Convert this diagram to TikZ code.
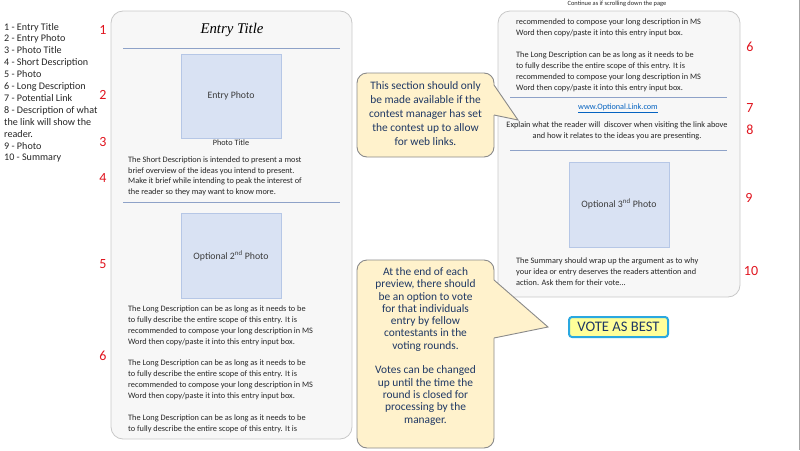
\documentclass[tikz,border=0pt]{standalone}
\usepackage{fontspec}
\setmainfont{Carlito}
\newfontfamily\serifit{Liberation Serif}
\definecolor{panelfill}{HTML}{F7F7F7}
\definecolor{panelborder}{HTML}{C8C8C8}
\definecolor{sepcol}{HTML}{8EA2C8}
\definecolor{photofill}{HTML}{D9E2F3}
\definecolor{photoborder}{HTML}{B6C7E6}
\definecolor{bodycol}{HTML}{262626}
\definecolor{numred}{HTML}{E0141E}
\definecolor{callfill}{HTML}{FFF2CC}
\definecolor{callborder}{HTML}{8A8A8A}
\definecolor{calltext}{HTML}{1F3864}
\definecolor{votefill}{HTML}{FFFF99}
\definecolor{voteborder}{HTML}{2AA8E0}
\definecolor{linkcol}{HTML}{0563C1}
\definecolor{edgecol}{HTML}{A6A6A6}
\begin{document}
\begin{tikzpicture}[x=1pt,y=-1pt,
  panel/.style={draw=panelborder,fill=panelfill,line width=0.8pt,rounded corners=12pt},
  sepline/.style={draw=sepcol,line width=0.8pt},
  photo/.style={draw=photoborder,fill=photofill,line width=0.8pt},
  photolabel/.style={font=\fontsize{9.8}{11}\selectfont,text=bodycol!90,inner sep=0pt},
  body/.style={font=\fontsize{8.3}{10.9}\selectfont,text=bodycol,align=left,inner sep=0pt,anchor=north west},
  bodyc/.style={font=\fontsize{8.3}{11}\selectfont,text=bodycol,align=center,inner sep=0pt,anchor=north},
  num/.style={font=\fontsize{14}{16}\selectfont,text=numred,inner sep=0pt},
  calltxt/.style={font=\fontsize{11.4}{14}\selectfont,text=calltext,align=center,inner sep=0pt,anchor=north},
  callbox/.style={draw=callborder,fill=callfill,line width=0.9pt,rounded corners=10pt},
]
\useasboundingbox (0,0) rectangle (800,450);
% right edge line
\coordinate (et) at (799,0);
\coordinate (eb) at (799,450);
\draw[edgecol,line width=1pt] (et) -- (eb);

% legend list
\node[font=\fontsize{10.1}{11.9}\selectfont,text=bodycol,align=left,inner sep=0pt,anchor=north west] (legend) at (4,22.8)
{1 - Entry Title\\2 - Entry Photo\\3 - Photo Title\\4 - Short Description\\5 - Photo\\6 - Long Description\\7 - Potential Link\\8 - Description of what\\the link will show the\\reader.\\9 - Photo\\10 - Summary};

% ---------- left panel
\draw[panel] (111,11) rectangle (352,439);
\node[font=\serifit\itshape\fontsize{14.8}{16}\selectfont,text=black,inner sep=0pt] (title) at (232,30) {Entry Title};
\coordinate (s1a) at (123,48); \coordinate (s1b) at (340,48);
\draw[sepline] (s1a) -- (s1b);
\draw[photo] (181,54) rectangle (281,138);
\node[photolabel] (p1) at (231,96) {Entry Photo};
\node[font=\fontsize{8.2}{9}\selectfont,text=bodycol,inner sep=0pt] (ptitle) at (231,143) {Photo Title};
\node[body,font=\fontsize{8.3}{10.5}\selectfont] (short) at (128,157)
{The Short Description is intended to present a most\\brief overview of the ideas you intend to present.\\Make it brief while intending to peak the interest of\\the reader so they may want to know more.};
\coordinate (s2a) at (123,202); \coordinate (s2b) at (340,202);
\draw[sepline] (s2a) -- (s2b);
\draw[photo] (181,213) rectangle (281,298);
\node[photolabel] (p2) at (231,256) {Optional 2\textsuperscript{nd} Photo};
\node[body] (long) at (128,305.5)
{The Long Description can be as long as it needs to be\\to fully describe the entire scope of this entry. It is\\recommended to compose your long description in MS\\Word then copy/paste it into this entry input box.\\[10.9pt]
The Long Description can be as long as it needs to be\\to fully describe the entire scope of this entry. It is\\recommended to compose your long description in MS\\Word then copy/paste it into this entry input box.\\[10.9pt]
The Long Description can be as long as it needs to be\\to fully describe the entire scope of this entry. It is};

% left numbers
\node[num] (n1) at (103,30) {1};
\node[num] (n2) at (103,95) {2};
\node[num] (n3) at (103,142) {3};
\node[num] (n4) at (103,178) {4};
\node[num] (n5) at (103,264) {5};
\node[num] (n6) at (103,356) {6};

% ---------- right panel
\node[font=\fontsize{6.4}{7}\selectfont,text=bodycol,inner sep=0pt] (cont) at (617,4) {Continue as if scrolling down the page};
\draw[panel] (498,11) rectangle (740,297);
\node[body] (rlong) at (516,19)
{recommended to compose your long description in MS\\Word then copy/paste it into this entry input box.\\[10.9pt]
The Long Description can be as long as it needs to be\\to fully describe the entire scope of this entry. It is\\recommended to compose your long description in MS\\Word then copy/paste it into this entry input box.};
\coordinate (s3a) at (510,97); \coordinate (s3b) at (727,97);
\draw[sepline] (s3a) -- (s3b);
\node[font=\fontsize{8.2}{10}\selectfont,text=linkcol,inner sep=0pt] (link) at (618,108) {\underline{www.Optional.Link.com}};
\node[bodyc] (explain) at (617,121.5)
{Explain what the reader will\ \ discover when visiting the link above\\and how it relates to the ideas you are presenting.};
\coordinate (s4a) at (510,150); \coordinate (s4b) at (727,150);
\draw[sepline] (s4a) -- (s4b);
\draw[photo] (569,162) rectangle (669,247);
\node[photolabel] (p3) at (619,204) {Optional 3\textsuperscript{nd} Photo};
\node[body] (summary) at (516,257.5)
{The Summary should wrap up the argument as to why\\your idea or entry deserves the readers attention and\\action. Ask them for their vote...};

% right numbers
\node[num] (r6) at (750,47) {6};
\node[num] (r7) at (750,108) {7};
\node[num] (r8) at (750,130) {8};
\node[num] (r9) at (749,198) {9};
\node[num] (r10) at (751,271) {10};

% ---------- callout 1
\draw[callbox] (357,73) rectangle (494,157);
\coordinate (c1a) at (494,85);
\coordinate (c1tip) at (518,120);
\coordinate (c1b) at (494,115);
\fill[callfill] (490,85) -- (c1a) -- (c1tip) -- (c1b) -- (490,115) -- cycle;
\draw[callborder,line width=0.9pt,line join=miter] (c1a) -- (c1tip) -- (c1b);
\node[calltxt] (call1) at (425.5,81.2)
{This section should only\\be made available if the\\contest manager has set\\the contest up to allow\\for web links.};

% ---------- callout 2
\draw[callbox] (357,260) rectangle (494,448);
\coordinate (c2a) at (494,280);
\coordinate (c2tip) at (548,327);
\coordinate (c2b) at (494,338);
\fill[callfill] (490,280) -- (c2a) -- (c2tip) -- (c2b) -- (490,338) -- cycle;
\draw[callborder,line width=0.9pt,line join=miter] (c2a) -- (c2tip) -- (c2b);
\node[calltxt,font=\fontsize{11.4}{12.3}\selectfont] (call2) at (425.5,267.3)
{At the end of each\\preview, there should\\be an option to vote\\for that individuals\\entry by fellow\\contestants in the\\voting rounds.\\[12.3pt]
Votes can be changed\\up until the time the\\round is closed for\\processing by the\\manager.};

% ---------- vote button
\node[draw=voteborder,line width=2pt,fill=votefill,rounded corners=3pt,minimum width=99pt,minimum height=20pt,inner sep=0pt,font=\fontsize{14.6}{15}\selectfont,text=calltext] (vote) at (618.5,327) {VOTE AS BEST};
\end{tikzpicture}
\end{document}
